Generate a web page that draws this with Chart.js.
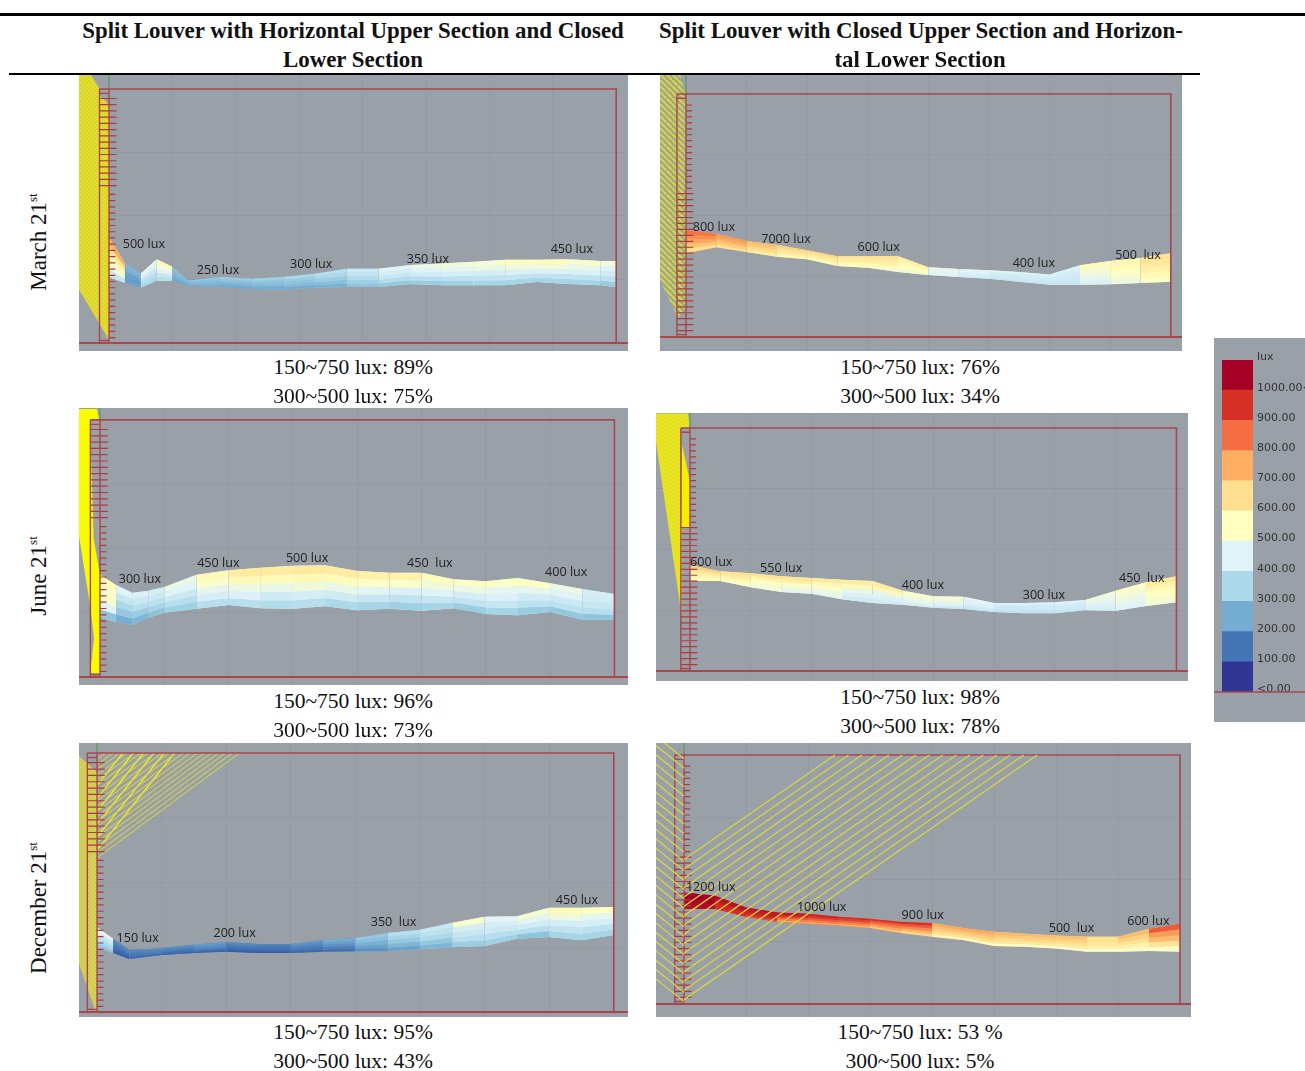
<!DOCTYPE html>
<html>
<head>
<meta charset="utf-8">
<title>Split louver illuminance</title>
<script src="https://cdn.jsdelivr.net/npm/chart.js@4"></script>
<style>
  html, body { margin: 0; padding: 0; background: #fff; }
  #page { position: relative; width: 1305px; height: 1071px; overflow: hidden; }
  #page canvas { position: absolute; background: #9aa0a8; filter: blur(0.5px); }
  .rule { position: absolute; background: #000; }
  .txt { position: absolute; white-space: nowrap; font-family: "Liberation Serif", serif; color: #111; transform: translate(-50%, -50%); }
  .head { font-weight: bold; font-size: 22.9px; }
  .cap { font-size: 21.5px; }
  .row { font-size: 23px; transform: translate(-50%, -50%) rotate(-90deg); }
  .row sup { font-size: 13px; line-height: 0; }
</style>
</head>
<body>
<div id="page"></div>
<script>
// Stations along the room depth (m)
const stationsCoarse = [0, 0.5, 1, 1.5, 2, 2.5, 3, 3.5, 4, 4.5, 5, 5.5, 6, 6.5, 7, 7.5, 8];
const stationsFine = [0, 0.25, 0.5, 0.75, 1, 1.5, 2, 2.5, 3, 3.5, 4, 4.5, 5, 5.5, 6, 6.5, 7, 7.5, 8];
const stationsMarch = [0, 0.25, 0.5, 0.75, 1, 1.25, 1.75, 2.25, 2.75, 3.25, 3.75, 4.25, 4.75, 5.25, 5.75, 6.25, 6.75, 7.25, 7.75, 8];

// March, left panel: band outline and lux per cell, top row first
const marchLeftTop = [1.66, 1.26, 1.09, 1.32, 1.20, 0.98, 1.04, 1.01, 1.04, 1.09, 1.17, 1.17, 1.23, 1.25, 1.28, 1.31, 1.31, 1.32, 1.29, 1.29];
const marchLeftBottom = [1.04, 0.95, 0.87, 0.98, 0.98, 0.90, 0.88, 0.85, 0.84, 0.87, 0.88, 0.88, 0.93, 0.91, 0.91, 0.91, 0.96, 0.93, 0.91, 0.88];
const marchLeftLux = [
  [750, 270, 470, 560, 290, 310, 320, 330, 350, 370, 410, 450, 490, 500, 520, 550, 560, 530, 500],
  [640, 260, 440, 500, 280, 290, 300, 310, 320, 350, 390, 430, 450, 470, 480, 500, 510, 480, 450],
  [570, 230, 400, 450, 270, 280, 280, 290, 300, 320, 360, 400, 420, 430, 430, 440, 440, 440, 420],
  [500, 220, 370, 400, 250, 270, 260, 270, 280, 290, 330, 360, 370, 380, 390, 390, 390, 390, 380],
  [400, 230, 350, 370, 240, 250, 240, 250, 250, 260, 300, 310, 320, 330, 340, 340, 340, 340, 320]
];

// March, right panel
const marchRightTop = [1.76, 1.70, 1.58, 1.52, 1.43, 1.33, 1.33, 1.33, 1.15, 1.12, 1.10, 1.07, 1.03, 1.18, 1.25, 1.30, 1.38];
const marchRightBottom = [1.38, 1.48, 1.40, 1.32, 1.28, 1.17, 1.14, 1.07, 1.02, 0.99, 0.96, 0.91, 0.86, 0.86, 0.87, 0.89, 0.91];
const marchRightLux = [
  [840, 780, 720, 680, 670, 640, 640, 600, 480, 470, 450, 440, 440, 560, 580, 640],
  [800, 760, 700, 650, 640, 620, 620, 580, 470, 450, 430, 430, 430, 520, 560, 620],
  [760, 720, 670, 620, 610, 600, 600, 560, 470, 440, 420, 420, 420, 500, 540, 600],
  [700, 680, 640, 600, 590, 570, 560, 530, 460, 430, 410, 410, 410, 470, 520, 570],
  [650, 640, 600, 570, 560, 540, 520, 500, 450, 420, 400, 400, 400, 440, 490, 540]
];

// June, left panel
const juneLeftTop = [1.59, 1.43, 1.31, 1.34, 1.40, 1.59, 1.66, 1.70, 1.73, 1.74, 1.65, 1.62, 1.62, 1.52, 1.49, 1.54, 1.46, 1.37, 1.29];
const juneLeftBottom = [0.92, 0.86, 0.81, 0.92, 1.00, 1.06, 1.12, 1.07, 1.06, 1.10, 1.04, 1.06, 1.03, 1.07, 0.98, 0.96, 1.01, 0.89, 0.89];
const juneLeftLux = [
  [560, 450, 440, 430, 480, 570, 610, 610, 620, 610, 600, 590, 560, 540, 540, 540, 490, 430],
  [530, 400, 410, 410, 450, 530, 570, 560, 570, 560, 540, 530, 500, 490, 470, 470, 450, 420],
  [520, 350, 370, 380, 410, 470, 490, 480, 500, 480, 460, 440, 450, 430, 440, 420, 410, 400],
  [450, 310, 320, 340, 370, 430, 440, 420, 430, 420, 400, 390, 400, 390, 400, 380, 380, 370],
  [300, 250, 270, 300, 330, 370, 370, 360, 370, 350, 340, 330, 340, 320, 340, 320, 310, 300]
];

// June, right panel
const juneRightTop = [1.74, 1.64, 1.61, 1.56, 1.53, 1.50, 1.48, 1.32, 1.23, 1.22, 1.12, 1.12, 1.13, 1.17, 1.32, 1.46, 1.56];
const juneRightBottom = [1.48, 1.48, 1.38, 1.30, 1.27, 1.18, 1.12, 1.09, 1.04, 1.02, 0.97, 0.95, 0.95, 1.00, 0.99, 1.07, 1.13];
const juneRightLux = [
  [680, 650, 640, 630, 620, 610, 610, 540, 520, 470, 440, 440, 450, 500, 540, 620],
  [630, 620, 590, 600, 580, 570, 570, 510, 500, 450, 420, 420, 430, 480, 510, 580],
  [600, 590, 550, 540, 530, 480, 470, 480, 470, 440, 410, 410, 420, 460, 490, 550],
  [580, 560, 520, 490, 490, 440, 440, 460, 440, 420, 400, 400, 410, 440, 470, 530],
  [560, 540, 500, 470, 460, 420, 420, 430, 410, 400, 390, 390, 400, 430, 450, 510]
];

// December, left panel
const decLeftTop = [1.31, 1.13, 0.96, 0.97, 0.99, 1.04, 1.08, 1.05, 1.05, 1.11, 1.14, 1.22, 1.27, 1.38, 1.47, 1.48, 1.61, 1.61, 1.62];
const decLeftBottom = [1.00, 0.91, 0.82, 0.85, 0.88, 0.91, 0.93, 0.91, 0.91, 0.93, 0.94, 0.94, 0.97, 1.00, 1.02, 1.13, 1.16, 1.11, 1.19];
const decLeftLux = [
  [460, 190, 190, 200, 200, 220, 190, 180, 210, 250, 310, 370, 400, 530, 460, 520, 560, 550],
  [420, 170, 170, 180, 180, 200, 170, 160, 190, 230, 290, 340, 380, 430, 430, 460, 500, 470],
  [380, 150, 160, 170, 160, 180, 150, 150, 170, 200, 260, 310, 350, 400, 410, 420, 430, 430],
  [340, 130, 150, 150, 140, 150, 130, 130, 150, 170, 230, 270, 310, 370, 370, 370, 390, 380],
  [300, 110, 130, 130, 120, 120, 110, 110, 130, 140, 200, 230, 270, 320, 330, 300, 340, 340]
];

// December, right panel
const decRightTop = [1.79, 1.74, 1.55, 1.47, 1.45, 1.40, 1.37, 1.32, 1.30, 1.22, 1.16, 1.13, 1.10, 1.08, 1.08, 1.21, 1.29];
const decRightBottom = [1.53, 1.53, 1.40, 1.32, 1.29, 1.26, 1.22, 1.14, 1.08, 1.03, 0.93, 0.92, 0.89, 0.84, 0.84, 0.85, 0.84];
const decRightLux = [
  [1060, 1020, 1010, 1010, 980, 960, 950, 950, 760, 760, 730, 720, 710, 650, 720, 880],
  [1050, 1010, 990, 970, 940, 920, 880, 880, 720, 720, 700, 690, 680, 640, 680, 780],
  [1040, 980, 980, 900, 880, 860, 820, 800, 680, 680, 660, 660, 650, 620, 640, 720],
  [1030, 960, 950, 820, 820, 800, 760, 730, 640, 640, 620, 620, 610, 590, 590, 640],
  [1020, 950, 900, 760, 760, 740, 700, 660, 580, 560, 550, 530, 520, 520, 530, 530]
];

// Colour scale
const luxStops = [50, 150, 250, 350, 450, 550, 650, 750, 850, 950, 1050];
const luxPalette = ['#313695', '#4575b4', '#74add1', '#abd9e9', '#e0f3f8', '#ffffbf', '#fee090', '#fdae61', '#f46d43', '#d73027', '#a50026'];
const legendBins = [100, 100, 100, 100, 100, 100, 100, 100, 100, 100, 100];
const legendTicks = ['<0.00', '100.00', '200.00', '300.00', '400.00', '500.00', '600.00', '700.00', '800.00', '900.00', '1000.00<', 'lux'];

// Text
const headLeft = ['Split Louver with Horizontal Upper Section and Closed', 'Lower Section'];
const headRight = ['Split Louver with Closed Upper Section and Horizon-', 'tal Lower Section'];
const rowNames = ['March 21', 'June 21', 'December 21'];
const wideBandLeft = ['150~750 lux: 89%', '150~750 lux: 96%', '150~750 lux: 95%'];
const narrowBandLeft = ['300~500 lux: 75%', '300~500 lux: 73%', '300~500 lux: 43%'];
const wideBandRight = ['150~750 lux: 76%', '150~750 lux: 98%', '150~750 lux: 53 %'];
const narrowBandRight = ['300~500 lux: 34%', '300~500 lux: 78%', '300~500 lux: 5%'];

const marchLeftNotes = [['500 lux', 0.55, 1.56], ['250 lux', 1.72, 1.15], ['300 lux', 3.19, 1.23], ['350 lux', 5.03, 1.32], ['450 lux', 7.30, 1.48]];
const marchRightNotes = [['800 lux', 0.46, 1.80], ['7000 lux', 1.65, 1.60], ['600 lux', 3.18, 1.47], ['400 lux', 5.74, 1.22], ['500  lux', 7.46, 1.35]];
const juneLeftNotes = [['300 lux', 0.62, 1.52], ['450 lux', 1.84, 1.77], ['500 lux', 3.22, 1.85], ['450  lux', 5.13, 1.76], ['400 lux', 7.25, 1.62]];
const juneRightNotes = [['600 lux', 0.35, 1.79], ['550 lux', 1.50, 1.69], ['400 lux', 3.83, 1.41], ['300 lux', 5.82, 1.25], ['450  lux', 7.43, 1.53]];
const decLeftNotes = [['150 lux', 0.63, 1.14], ['200 lux', 2.13, 1.22], ['350  lux', 4.59, 1.39], ['450 lux', 7.43, 1.73]];
const decRightNotes = [['1200 lux', 0.43, 1.87], ['1000 lux', 2.22, 1.55], ['900 lux', 3.85, 1.43], ['500  lux', 6.25, 1.21], ['600 lux', 7.49, 1.32]];

const page = document.getElementById('page');
const RED = '#a8474b';

function addText(cls, html, x, y) {
  const el = document.createElement('div');
  el.className = 'txt ' + cls;
  el.style.left = x + 'px';
  el.style.top = y + 'px';
  el.innerHTML = html;
  page.appendChild(el);
}

function addRule(x, y, w, h) {
  const el = document.createElement('div');
  el.className = 'rule';
  el.style.cssText = `left:${x}px;top:${y}px;width:${w}px;height:${h}px`;
  page.appendChild(el);
}

function luxColor(lux) {
  const rgb = hex => [1, 3, 5].map(i => parseInt(hex.substr(i, 2), 16));
  let i = luxStops.findIndex(s => lux < s);
  if (i === 0) return luxPalette[0];
  if (i < 0) return luxPalette[luxPalette.length - 1];
  const t = (lux - luxStops[i - 1]) / (luxStops[i] - luxStops[i - 1]);
  const a = rgb(luxPalette[i - 1]), b = rgb(luxPalette[i]);
  return `rgb(${a.map((v, k) => Math.round(v + (b[k] - v) * t)).join(',')})`;
}

function hatch(period, fg, bg, width) {
  const c = document.createElement('canvas');
  c.width = c.height = period;
  const g = c.getContext('2d');
  g.fillStyle = bg;
  g.fillRect(0, 0, period, period);
  g.strokeStyle = fg;
  g.lineWidth = width;
  g.beginPath();
  for (const d of [-period, 0, period]) {
    g.moveTo(d, 0);
    g.lineTo(d + period, period);
  }
  g.stroke();
  return g.createPattern(c, 'repeat');
}

// Line dataset, points are [x, y] pairs, null breaks the line
function lineSet(points, color, width, extra) {
  return Object.assign({
    data: points.map(p => p ? { x: p[0], y: p[1] } : { x: null, y: null }),
    borderColor: color,
    borderWidth: width,
    pointRadius: 0,
    tension: 0,
    spanGaps: false
  }, extra);
}

function shapeSet(points, fill) {
  return lineSet(points, 'transparent', 0, { fill: 'shape', backgroundColor: fill });
}

// Stacked boundary lines of the lux band, each one fills down to the next.
// The last pair is a plain underlay so the cell seams don't show the grey.
function bandSets(stations, top, bottom, lux) {
  const sets = [];
  const edge = f => stations.map((x, i) => [x, top[i] + (bottom[i] - top[i]) * f]);
  for (let r = 0; r <= lux.length; r++) {
    const extra = {};
    if (r < lux.length) {
      extra.fill = '+1';
      extra.backgroundColor = luxColor(lux[r][0]);
      extra.segment = { backgroundColor: ctx => luxColor(lux[r][ctx.p0DataIndex]) };
    }
    sets.push(lineSet(edge(r / lux.length), 'transparent', 0, extra));
  }
  const mid = lux[2];
  sets.push(lineSet(edge(0), 'transparent', 0, {
    fill: '+1',
    backgroundColor: luxColor(mid[0]),
    segment: { backgroundColor: ctx => luxColor(mid[ctx.p0DataIndex]) }
  }));
  sets.push(lineSet(edge(1), 'transparent', 0));
  return sets;
}

// Short horizontal louver blades between two heights
function blades(from, to, step, x0, x1) {
  const pts = [];
  for (let y = from; y >= to; y -= step) pts.push([x0, y], [x1, y], null);
  return pts;
}

// Parallel rays leaving the wall plane
function rays(from, to, step, slope, xEnd) {
  const pts = [];
  for (let y = from; y <= to; y += step) pts.push([0, y], [xEnd(y), y + slope * xEnd(y)], null);
  return pts;
}

function frameSets(xr, open) {
  return [
    lineSet([[xr[0], 0], [xr[1], 0]], RED, 2),
    lineSet([[-0.15, 4], [8, 4], [8, 0]], RED, 1.6),
    lineSet([[-0.15, 4], [-0.15, 0], null, [0, 4], [0, 0], null, [-0.15, 0.04], [0, 0.04], null, [-0.15, 3.93], [0, 3.93]], RED, 1.4),
    lineSet(blades(open.wideFrom, open.wideTo, 0.098, -0.15, 0.12), '#a83c3e', 1.2),
    lineSet(blades(open.thinFrom, open.thinTo, 0.098, 0, 0.1), '#a83c3e', 1.2),
    lineSet([[0, 4], [0, 5]], '#5f9c62', 1.4)
  ];
}

function makePanel(cfg) {
  const canvas = document.createElement('canvas');
  const [left, top, w, h] = cfg.rect;
  canvas.width = w;
  canvas.height = h;
  canvas.style.left = left + 'px';
  canvas.style.top = top + 'px';
  page.appendChild(canvas);

  const onlyWhole = s => { s.ticks = s.ticks.filter(t => Number.isInteger(t.value)); };
  const axis = (min, max) => ({
    type: 'linear', min, max,
    afterBuildTicks: onlyWhole,
    ticks: { display: false, stepSize: 1 },
    grid: { color: '#939aa2', lineWidth: 1, drawTicks: false },
    border: { display: false }
  });

  // first dataset is painted last, so the list runs from front to back
  const datasets = [
    ...(cfg.front || []),
    ...frameSets(cfg.xr, cfg.open),
    ...bandSets(cfg.stations, cfg.bandTop, cfg.bandBottom, cfg.lux),
    ...(cfg.back || [])
  ];

  const notes = {
    id: 'luxNotes',
    afterDatasetsDraw(chart) {
      const g = chart.ctx;
      g.save();
      g.font = '12.6px "Open Sans", sans-serif';
      g.fillStyle = '#222';
      g.textAlign = 'center';
      g.textBaseline = 'middle';
      for (const [text, x, y] of cfg.notes) {
        g.fillText(text, chart.scales.x.getPixelForValue(x), chart.scales.y.getPixelForValue(y));
      }
      g.restore();
    }
  };

  new Chart(canvas, {
    type: 'line',
    data: { datasets },
    options: {
      responsive: false,
      animation: false,
      events: [],
      layout: { padding: 0 },
      plugins: { legend: { display: false }, tooltip: { enabled: false } },
      scales: { x: axis(cfg.xr[0], cfg.xr[1]), y: axis(cfg.yr[0], cfg.yr[1]) }
    },
    plugins: [notes]
  });
}

// Louver layouts: left column opens the upper part, right column the lower part
const upperOpen = { wideFrom: 3.85, wideTo: 2.42, thinFrom: 2.34, thinTo: 0.06 };
const lowerOpen = { wideFrom: 2.36, wideTo: 0.08, thinFrom: 3.82, thinTo: 2.4 };

makePanel({
  rect: [79, 75, 549, 276], xr: [-0.473, 8.186], yr: [-0.126, 4.22], open: upperOpen,
  stations: stationsMarch, bandTop: marchLeftTop, bandBottom: marchLeftBottom, lux: marchLeftLux, notes: marchLeftNotes,
  back: [shapeSet([[-0.473, 4.22], [-0.28, 4.22], [-0.15, 4], [-0.15, 3.9], [0, 3.75], [0, 0.05], [-0.473, 0.84]], hatch(4, '#d0cd40', '#e4de28', 1))]
});
makePanel({
  rect: [660, 74, 522, 277], xr: [-0.429, 8.185], yr: [-0.23, 4.33], open: lowerOpen,
  stations: stationsCoarse, bandTop: marchRightTop, bandBottom: marchRightBottom, lux: marchRightLux, notes: marchRightNotes,
  back: [shapeSet([[-0.429, 4.33], [-0.1, 4.33], [0, 3.95], [0, 0.49], [-0.13, 0.31], [-0.429, 0.94]], hatch(6, '#d8d43a', '#9aa59a', 2.2))]
});
makePanel({
  rect: [79, 408, 549, 277], xr: [-0.327, 8.211], yr: [-0.124, 4.184], open: upperOpen,
  stations: stationsFine, bandTop: juneLeftTop, bandBottom: juneLeftBottom, lux: juneLeftLux, notes: juneLeftNotes,
  back: [shapeSet([[-0.33, 4.17], [-0.05, 4.17], [-0.015, 4], [-0.155, 4], [-0.1, 2.16], [0, 1.59], [0, 0.06], [-0.155, 0.06], [-0.093, 0.6], [-0.155, 1.12], [-0.33, 2.21]], '#fbfb00')]
});
makePanel({
  rect: [656, 413, 532, 268], xr: [-0.559, 8.19], yr: [-0.165, 4.247], open: lowerOpen,
  stations: stationsCoarse, bandTop: juneRightTop, bandBottom: juneRightBottom, lux: juneRightLux, notes: juneRightNotes,
  back: [
    shapeSet([[-0.13, 2.35], [0, 2.35], [0, 3.11], [-0.13, 3.72]], '#f5f000'),
    shapeSet([[-0.56, 4.24], [-0.03, 4.24], [0, 4], [-0.15, 4], [-0.13, 2.35], [-0.13, 0.87], [-0.56, 3.77]], hatch(4, '#d8d430', '#ece61c', 1))
  ]
});
makePanel({
  rect: [79, 743, 549, 274], xr: [-0.279, 8.22], yr: [-0.077, 4.154], open: upperOpen,
  stations: stationsFine, bandTop: decLeftTop, bandBottom: decLeftBottom, lux: decLeftLux, notes: decLeftNotes,
  back: [
    lineSet(rays(2.38, 3.95, 0.08, 0.734, y => (4 - y) / 0.734), '#e0da38', 1),
    lineSet(rays(2.5, 3.7, 0.2, 1.25, y => (4 - y) / 1.25), '#f4ee20', 1.3),
    shapeSet([[-0.28, 3.95], [0, 3.71], [0, 0.03], [-0.03, 0.03], [-0.28, 0.75]], hatch(4, '#c4c268', '#d8d24c', 1))
  ]
});
makePanel({
  rect: [656, 743, 535, 274], xr: [-0.452, 8.177], yr: [-0.209, 4.193], open: lowerOpen,
  stations: stationsCoarse, bandTop: decRightTop, bandBottom: decRightBottom, lux: decRightLux, notes: decRightNotes,
  front: [
    lineSet(rays(0.07, 2.36, 0.15, 0.69, y => (4 - y) / 0.69), '#d8d440', 1.3),
    lineSet(rays(0.04, 4, 0.15, -0.8, () => -0.46), '#d8d440', 1.3)
  ]
});

// Colour legend
const legendCanvas = document.createElement('canvas');
legendCanvas.width = 91;
legendCanvas.height = 384;
legendCanvas.style.left = '1214px';
legendCanvas.style.top = '338px';
page.appendChild(legendCanvas);

new Chart(legendCanvas, {
  type: 'bar',
  data: {
    labels: ['lux'],
    datasets: legendBins.map((v, i) => ({ data: [v], backgroundColor: luxPalette[i], barPercentage: 1, categoryPercentage: 1 }))
  },
  options: {
    responsive: false,
    animation: false,
    events: [],
    layout: { padding: { left: 8, top: 22, bottom: 30 } },
    plugins: { legend: { display: false }, tooltip: { enabled: false } },
    scales: {
      x: { stacked: true, display: false },
      y: {
        stacked: true,
        position: 'right',
        min: 0,
        max: 1100,
        afterFit: s => { s.width = 52; },
        grid: { display: false, drawTicks: false },
        border: { display: false },
        ticks: {
          stepSize: 100,
          autoSkip: false,
          padding: 4,
          labelOffset: -2.5,
          color: '#333',
          font: { family: 'DejaVu Sans', size: 11 },
          callback: v => legendTicks[v / 100]
        }
      }
    }
  },
  plugins: [{
    id: 'zeroLine',
    afterDraw(chart) {
      const g = chart.ctx, y = chart.scales.y.getPixelForValue(0);
      g.save();
      g.strokeStyle = RED;
      g.lineWidth = 1.5;
      g.beginPath();
      g.moveTo(0, y);
      g.lineTo(chart.width, y);
      g.stroke();
      g.restore();
    }
  }]
});

// Page text and table rules
addRule(0, 13, 1305, 3);
addRule(9, 73, 1191, 2);
addText('head', headLeft[0], 353, 31);
addText('head', headLeft[1], 353, 60);
addText('head', headRight[0], 921, 31);
addText('head', headRight[1], 920, 60);

const rowCentres = [242, 576, 908];
const capLeftY = [367, 701, 1032];
const capRightY = [367, 697, 1032];
rowNames.forEach((name, i) => {
  addText('row', name + '<sup>st</sup>', 39, rowCentres[i]);
  addText('cap', wideBandLeft[i], 353, capLeftY[i]);
  addText('cap', narrowBandLeft[i], 353, capLeftY[i] + 29);
  addText('cap', wideBandRight[i], 920, capRightY[i]);
  addText('cap', narrowBandRight[i], 920, capRightY[i] + 29);
});
</script>
</body>
</html>
